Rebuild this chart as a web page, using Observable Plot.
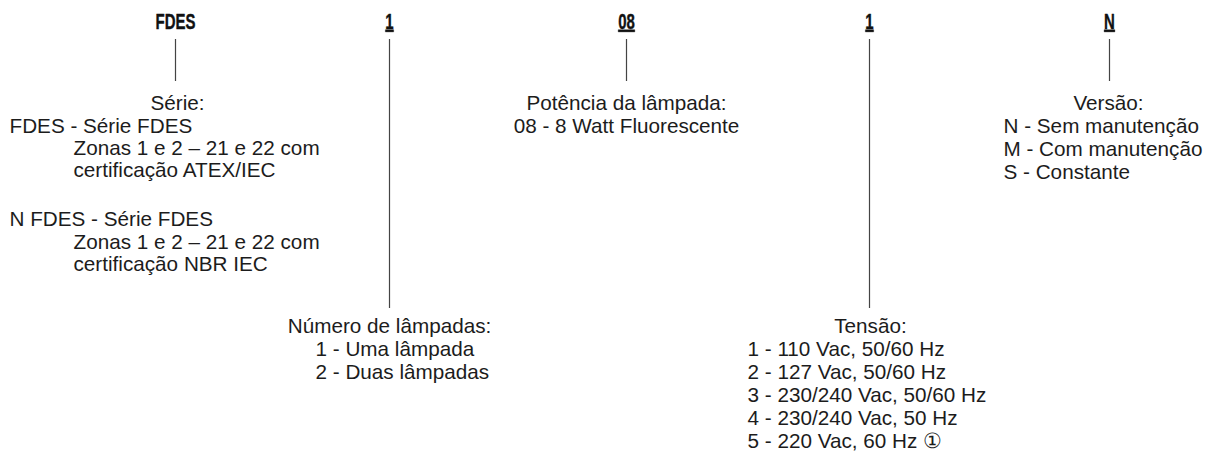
<!DOCTYPE html>
<html>
<head>
<meta charset="utf-8">
<script src="https://cdn.jsdelivr.net/npm/d3@7"></script>
<script src="https://cdn.jsdelivr.net/npm/@observablehq/plot@0.6"></script>
<style>
  html, body { margin: 0; padding: 0; background: #fff; }
</style>
</head>
<body>
<div id="chart"></div>
<script>
// ---- content ----
const codes = ["FDES", "1", "08", "1", "N"];
const codeUnderlined = [false, true, true, true, true];

const blockTitles = ["Série:", "Número de lâmpadas:", "Potência da lâmpada:", "Tensão:", "Versão:"];

const serieItems = [
  "FDES - Série FDES",
  "Zonas 1 e 2 – 21 e 22 com",
  "certificação ATEX/IEC",
  "N FDES - Série FDES",
  "Zonas 1 e 2 – 21 e 22 com",
  "certificação NBR IEC"
];
const lampadasItems = ["1 - Uma lâmpada", "2 - Duas lâmpadas"];
const potenciaItems = ["08 - 8 Watt Fluorescente"];
const tensaoItems = [
  "1 - 110 Vac, 50/60 Hz",
  "2 - 127 Vac, 50/60 Hz",
  "3 - 230/240 Vac, 50/60 Hz",
  "4 - 230/240 Vac, 50 Hz",
  "5 - 220 Vac, 60 Hz \u2460"
];
const versaoItems = ["N - Sem manutenção", "M - Com manutenção", "S - Constante"];

// ---- layout (pixel positions of the diagram) ----
const W = 1210, H = 452;
const codeX = [175, 389, 626, 869, 1109];
const codeY = 21;
const connectorTop = 39;
const connectorBottom = [81, 308, 81, 308, 81];
const titleX = [177, 389, 626, 870, 1108];
const titleY = [103, 326, 103, 326, 103];

const blockItems = [serieItems, lampadasItems, potenciaItems, tensaoItems, versaoItems];
const itemX = [
  [9, 73, 73, 9, 73, 73],
  [315, 315],
  [626],
  [747, 747, 747, 747, 747],
  [1003, 1003, 1003]
];
const itemAnchor = ["start", "start", "middle", "start", "start"];
const itemY = [
  [126, 148, 170, 219, 242, 264],
  [349, 372],
  [126],
  [349, 372, 395, 418, 441],
  [126, 149, 172]
];

// ---- tables ----
const codeTable = codes.map((c, i) => ({text: c, x: codeX[i], y: codeY, u: codeUnderlined[i]}));
const connectors = codes.map((c, i) => ({x: codeX[i], y1: connectorTop, y2: connectorBottom[i]}));
const titles = blockTitles.map((t, i) => ({text: t, x: titleX[i], y: titleY[i]}));
const items = blockItems.flatMap((arr, b) => arr.map((t, j) => ({
  text: t, x: itemX[b][j], y: itemY[b][j], anchor: itemAnchor[b]
})));

const font = "Liberation Sans, Arial, Helvetica, sans-serif";
const ink = "#1c1c1c";
const fs = 20.7;

const chart = Plot.plot({
  width: W,
  height: H,
  margin: 0,
  x: {type: "linear", domain: [0, W], range: [0, W], axis: null},
  y: {type: "linear", domain: [0, H], range: [0, H], axis: null},
  style: {background: "#fff", color: ink, fontFamily: font},
  marks: [
    Plot.ruleX(connectors, {x: "x", y1: "y1", y2: "y2", stroke: "#444", strokeWidth: 1.2}),
    Plot.text(codeTable, {
      x: "x", y: "y", text: "text", fontSize: 22, fontWeight: "bold",
      fontFamily: font, fill: "#111", stroke: "#111", strokeWidth: 0.4
    }),
    Plot.text(titles, {
      x: "x", y: "y", text: "text", fontSize: fs, fontFamily: font, fill: ink, textAnchor: "middle"
    }),
    Plot.text(items.filter(d => d.anchor === "start"), {
      x: "x", y: "y", text: "text", fontSize: fs, fontFamily: font, fill: ink, textAnchor: "start"
    }),
    Plot.text(items.filter(d => d.anchor === "middle"), {
      x: "x", y: "y", text: "text", fontSize: fs, fontFamily: font, fill: ink, textAnchor: "middle"
    })
  ]
});

// condensed bold look for the code letters, and underline the coded digits
const codeGroup = d3.select(chart).selectAll('g[aria-label="text"]').nodes()[0];
d3.select(codeGroup).selectAll("text").each(function(d, j) {
  const el = d3.select(this);
  const t = el.attr("transform") || "";
  el.attr("transform", t + " scale(0.68,1)");
  if (codeTable[j].u) el.style("text-decoration", "underline");
});

document.getElementById("chart").appendChild(chart);
</script>
</body>
</html>
